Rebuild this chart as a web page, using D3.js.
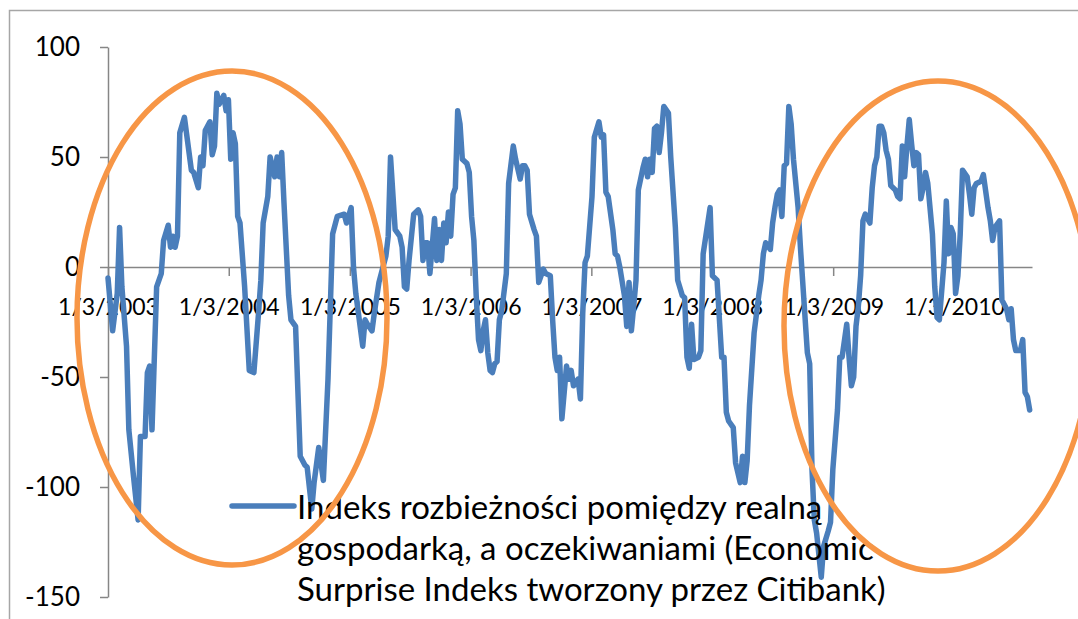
<!DOCTYPE html>
<html>
<head>
<meta charset="utf-8">
<script src="https://cdn.jsdelivr.net/npm/d3@7"></script>
<style>
  body { margin: 0; background: #fff; }
  svg { display: block; }
  text { font-family: Lato, "Open Sans", sans-serif; fill: #000; }
</style>
</head>
<body>
<div id="chart"></div>
<script>
// weeks counted from 1/3/2003
var startDate = new Date(2003, 0, 3);
var weeks = [0,2,4,5,6,8,9,11,13,14,16,17,18,19,21,23,24,26,27,28,29,30,31,33,36,37,39,40,41,42,44,45,46,47,48,50,51,52,53,54,55,56,57,59,61,63,65,66,
  67,69,70,72,73,74,75,76,78,79,81,83,85,86,88,89,91,93,95,97,99,102,103,105,106,107,110,111,112,114,115,117,120,121,122,124,126,127,128,129,130,132,
  134,135,136,137,138,139,141,142,143,144,145,146,147,148,149,150,151,152,153,155,156,157,158,159,160,161,162,163,164,165,166,167,168,169,170,172,173,175,176,178,179,180,181,182,184,185,186,188,189,191,192,193,194,195,196,198,199,200,
  201,203,204,205,206,207,209,210,212,213,214,215,216,218,219,220,221,223,224,225,226,227,228,229,231,232,233,234,235,236,237,238,239,240,242,243,245,246,248,249,250,251,252,253,255,256,257,260,261,263,265,266,267,
  268,270,271,273,274,275,276,277,279,281,282,283,284,286,287,288,289,290,291,292,293,294,295,296,298,299,300,302,303,304,305,306,308,309,311,312,313,315,316,317,319,320,321,322,323,324,325,326,327,329,330,331,332,333,
  334,335,336,337,338,340,341,342,343,344,345,346,347,348,349,350,351,352,353,354,356,357,358,359,361,362,363,364,365,366,367,368,369,371,372,373,374,375,377,378,380,381,382,383,385,386,388,389,390,391,392,394,395,396,397,398];
var values = [-5,-29,-12,18,-9,-36,-74,-95,-115,-77,-77,-48,-45,-74,-9,-3,12,19,9,14,9,14,61,68,44,43,36,50,46,62,66,51,55,79,74,78,71,76,49,61,56,23,20,-9,-47,-48,-21,-6,
  20,32,50,41,50,41,52,29,-13,-24,-27,-86,-90,-91,-110,-98,-82,-97,-51,15,23,24,20,27,0,-12,-36,-24,-26,-29,-21,-7,5,14,50,17,14,9,-9,-10,3,24,
  26,23,3,11,11,-3,22,3,17,3,20,11,25,14,33,36,71,65,49,47,43,23,12,-13,-33,-38,-29,-24,-39,-47,-48,-44,-43,-24,-20,-3,38,55,49,40,46,46,44,24,17,14,-7,-1,-3,-4,-24,-41,-47,-41,-69,-45,-51,-47,
  -54,-51,-60,-21,2,5,32,59,66,59,60,34,32,17,6,5,0,-13,-27,-7,-29,-18,-6,35,45,49,41,49,43,63,64,52,61,73,70,50,18,-6,-13,-14,-41,-46,-26,-42,-41,-38,6,27,-4,-6,-41,-41,-66,
  -70,-73,-89,-98,-86,-98,-88,-63,-30,-13,-6,6,11,8,20,27,33,35,23,46,47,73,65,49,27,9,-7,-39,-44,-92,-115,-121,-141,-127,-120,-116,-92,-65,-41,-41,-26,-41,-54,-50,-27,-18,-4,21,24,20,36,46,50,64,
  64,61,53,49,37,35,32,31,55,41,55,67,56,46,52,51,31,36,43,38,15,-9,-23,-24,2,30,6,18,15,-12,-4,15,44,41,33,24,36,38,39,42,27,21,12,18,21,-15,-19,-24,-19,-33,-38,-38,-33,-57,-59,-65];

var yTicks = [100, 50, 0, -50, -100, -150];
var tickYears = [2003, 2004, 2005, 2006, 2007, 2008, 2009, 2010];
var legendLines = [
  "Indeks rozbieżności pomiędzy realną",
  "gospodarką, a oczekiwaniami (Economic",
  "Surprise Indeks tworzony przez Citibank)"
];

var w = 1078, h = 619;
var blue = "#4a7ebb", orange = "#f79646", axisGray = "#868686";

var data = weeks.map(function(wk, i) {
  return { date: d3.timeDay.offset(startDate, wk * 7), value: values[i] };
});

var svg = d3.select("#chart").append("svg")
  .attr("width", w)
  .attr("height", h);

// chart frame
svg.append("rect")
  .attr("x", 9.5).attr("y", 10.5)
  .attr("width", 1200).attr("height", 800)
  .attr("fill", "#fff")
  .attr("stroke", "#a6a6a6")
  .attr("stroke-width", 1.5);

var x = d3.scaleTime()
  .domain([startDate, new Date(2010, 7, 27)])
  .range([108, 1032]);

var y = d3.scaleLinear()
  .domain([-150, 100])
  .range([597, 47]);

// y axis (plain hyphen minus like the original)
var yAxis = svg.append("g")
  .attr("transform", "translate(108,0)")
  .call(d3.axisLeft(y).tickValues(yTicks).tickFormat(function(d) { return String(d); })
    .tickSize(8).tickPadding(20).tickSizeOuter(0));
yAxis.select(".domain").attr("stroke", axisGray).attr("stroke-width", 1.5);
yAxis.selectAll(".tick line").attr("stroke", axisGray).attr("stroke-width", 1.5);
yAxis.selectAll(".tick text")
  .attr("font-family", "Lato, sans-serif")
  .attr("font-size", 26)
  .attr("fill", "#000");

// x axis at zero
var xTicks = tickYears.map(function(yr) { return new Date(yr, 0, 3); });
var xAxis = svg.append("g")
  .attr("transform", "translate(0," + y(0) + ")")
  .call(d3.axisBottom(x).tickValues(xTicks).tickFormat(d3.timeFormat("%-m/%-d/%Y"))
    .tickSize(9).tickPadding(23).tickSizeOuter(0));
xAxis.select(".domain").attr("stroke", axisGray).attr("stroke-width", 1.5);
xAxis.selectAll(".tick line").attr("stroke", axisGray).attr("stroke-width", 1.5);
xAxis.selectAll(".tick text")
  .attr("font-family", "Lato, sans-serif")
  .attr("font-size", 23)
  .attr("fill", "#000");

// the series
var line = d3.line()
  .x(function(d) { return x(d.date); })
  .y(function(d) { return y(d.value); });

svg.append("path")
  .datum(data)
  .attr("d", line)
  .attr("fill", "none")
  .attr("stroke", blue)
  .attr("stroke-width", 5.5)
  .attr("stroke-linejoin", "round")
  .attr("stroke-linecap", "round");

// legend
var legend = svg.append("g").attr("transform", "translate(232,506)");
legend.append("line")
  .attr("x1", 0).attr("x2", 62)
  .attr("y1", 0).attr("y2", 0)
  .attr("stroke", blue)
  .attr("stroke-width", 5.5)
  .attr("stroke-linecap", "round");
legend.selectAll("text")
  .data(legendLines)
  .enter()
  .append("text")
  .attr("x", 65)
  .attr("y", function(d, i) { return 13 + i * 41; })
  .attr("font-size", 33)
  .text(function(d) { return d; });

// highlight ellipses
var marks = [
  { cx: 232, cy: 318, rx: 155, ry: 247 },
  { cx: 938, cy: 326, rx: 154, ry: 245 }
];
svg.selectAll("ellipse")
  .data(marks)
  .enter()
  .append("ellipse")
  .attr("cx", function(d) { return d.cx; })
  .attr("cy", function(d) { return d.cy; })
  .attr("rx", function(d) { return d.rx; })
  .attr("ry", function(d) { return d.ry; })
  .attr("fill", "none")
  .attr("stroke", orange)
  .attr("stroke-width", 5.5);
</script>
</body>
</html>
